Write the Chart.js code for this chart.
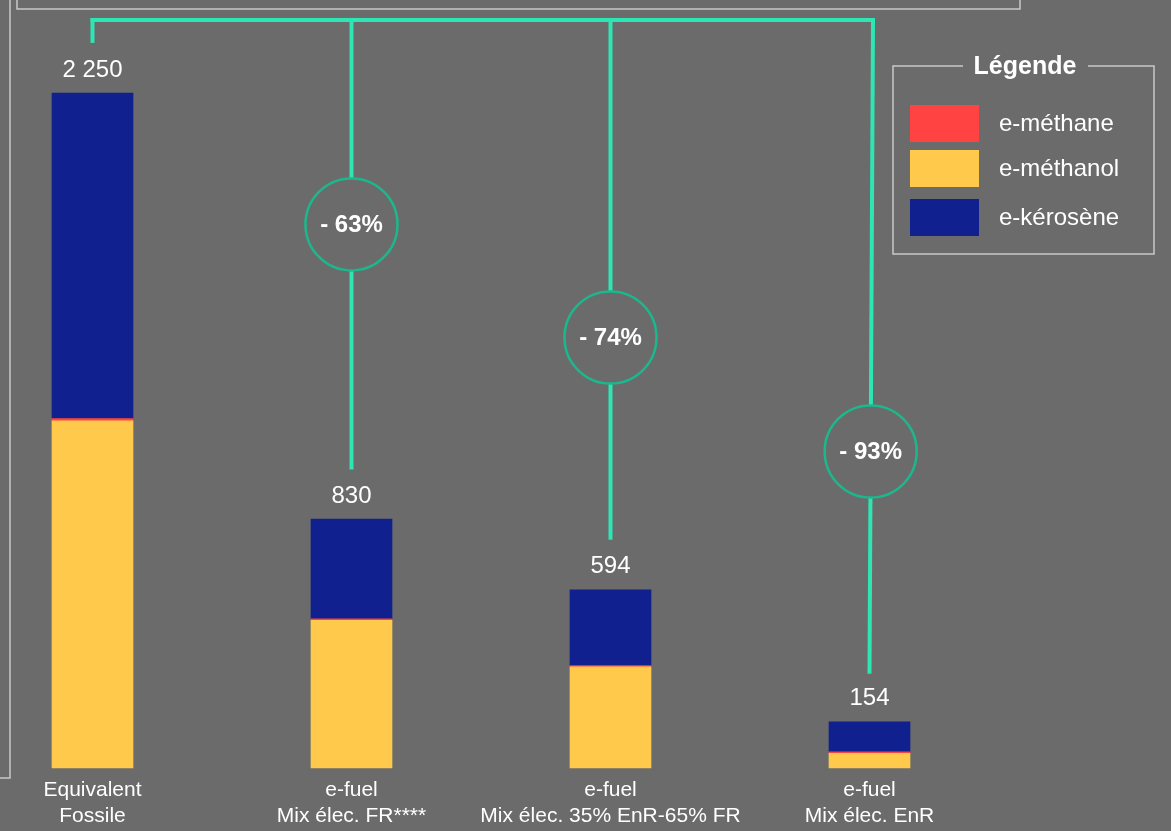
<!DOCTYPE html>
<html>
<head>
<meta charset="utf-8">
<script src="https://cdn.jsdelivr.net/npm/chart.js@4/dist/chart.umd.min.js"></script>
<style>
  html, body { margin: 0; padding: 0; background: #6b6b6b; overflow: hidden; }
  canvas { display: block; }
</style>
</head>
<body>
<canvas id="c" width="1171" height="831"></canvas>
<script>
// ---- Data ----
const categories = [
  ['Equivalent', 'Fossile'],
  ['e-fuel', 'Mix élec. FR****'],
  ['e-fuel', 'Mix élec. 35% EnR-65% FR'],
  ['e-fuel', 'Mix élec. EnR']
];
const methanolValues = [1157, 492, 337, 49];
const methaneValues = [8, 5, 4, 5];
const keroseneValues = [1085, 333, 253, 100];
const totalLabels = [2250, 830, 594, 154];
const reductionLabels = [null, '- 63%', '- 74%', '- 93%'];
const reductionLevels = [null, 1812, 1435, 1055];
const connectorEnds = [2417, 995, 761, 314];
const bracketLevel = 2493;
const yMax = 2500;
const legendTitle = 'Légende';
const legendNames = ['e-méthane', 'e-méthanol', 'e-kérosène'];

const COLORS = {
  methane: '#ff4242',
  methanol: '#ffca4b',
  kerosene: '#10218f',
  line: '#2de6b4',
  circle: '#1cb88d',
  frame: '#c9c9c9',
  text: '#ffffff'
};
const FONT = '"Liberation Sans", Arial, sans-serif';

Chart.defaults.font.family = FONT;
Chart.defaults.color = '#ffffff';

function fmt(n) {
  return String(n).replace(/\B(?=(\d{3})+(?!\d))/g, ' ');
}

const decorPlugin = {
  id: 'decor',
  beforeDraw(chart) {
    const ctx = chart.ctx;
    ctx.save();
    ctx.fillStyle = '#6b6b6b';
    ctx.fillRect(0, 0, chart.width, chart.height);
    ctx.strokeStyle = COLORS.frame;
    ctx.lineWidth = 1.5;
    ctx.beginPath();
    ctx.moveTo(10, 0); ctx.lineTo(10, 778); ctx.lineTo(0, 778);
    ctx.moveTo(17, 0); ctx.lineTo(17, 9); ctx.lineTo(1020, 9); ctx.lineTo(1020, 0);
    ctx.stroke();
    ctx.restore();
  },
  afterDatasetsDraw(chart) {
    const ctx = chart.ctx;
    const xs = chart.scales.x, ys = chart.scales.y;
    ctx.save();
    ctx.fillStyle = COLORS.text;
    ctx.font = '24px ' + FONT;
    ctx.textAlign = 'center';
    ctx.textBaseline = 'middle';
    totalLabels.forEach((v, i) => {
      const x = xs.getPixelForValue(i);
      const y = ys.getPixelForValue(v) - 23;
      ctx.fillText(fmt(v), x, y);
    });
    const by = ys.getPixelForValue(bracketLevel);
    const n = categories.length;
    const slant = (i) => (i === n - 1 ? 3.5 : 0);
    ctx.strokeStyle = COLORS.line;
    ctx.lineWidth = 4;
    ctx.lineCap = 'butt';
    ctx.beginPath();
    ctx.moveTo(xs.getPixelForValue(0) - 2, by);
    ctx.lineTo(xs.getPixelForValue(n - 1) + slant(n - 1) + 2, by);
    ctx.stroke();
    const R = 46;
    for (let i = 0; i < n; i++) {
      const xb = xs.getPixelForValue(i);
      const xt = xb + slant(i);
      const ye = ys.getPixelForValue(connectorEnds[i]);
      const xAt = (y) => xt + (xb - xt) * (y - by) / (ye - by);
      ctx.strokeStyle = COLORS.line;
      ctx.lineWidth = 4;
      if (reductionLevels[i] == null) {
        ctx.beginPath(); ctx.moveTo(xt, by - 2); ctx.lineTo(xb, ye); ctx.stroke();
      } else {
        const cy = ys.getPixelForValue(reductionLevels[i]);
        ctx.beginPath(); ctx.moveTo(xt, by - 2); ctx.lineTo(xAt(cy - R), cy - R); ctx.stroke();
        ctx.beginPath(); ctx.moveTo(xAt(cy + R), cy + R); ctx.lineTo(xb, ye); ctx.stroke();
        const cx = xAt(cy);
        ctx.beginPath();
        ctx.arc(cx, cy, R, 0, Math.PI * 2);
        ctx.strokeStyle = COLORS.circle;
        ctx.lineWidth = 2.5;
        ctx.stroke();
        ctx.fillStyle = COLORS.text;
        ctx.font = 'bold 24px ' + FONT;
        ctx.fillText(reductionLabels[i], cx, cy + 1);
      }
    }
    const lx0 = 893, lx1 = 1154, ly0 = 66, ly1 = 254;
    ctx.strokeStyle = COLORS.frame;
    ctx.lineWidth = 1.5;
    ctx.beginPath();
    ctx.moveTo(963, ly0); ctx.lineTo(lx0, ly0); ctx.lineTo(lx0, ly1);
    ctx.lineTo(lx1, ly1); ctx.lineTo(lx1, ly0); ctx.lineTo(1088, ly0);
    ctx.stroke();
    ctx.fillStyle = COLORS.text;
    ctx.font = 'bold 25px ' + FONT;
    ctx.textAlign = 'center';
    ctx.fillText(legendTitle, 1025, 67);
    const legendColors = [COLORS.methane, COLORS.methanol, COLORS.kerosene];
    const rowTops = [105, 150, 199];
    ctx.font = '24px ' + FONT;
    ctx.textAlign = 'left';
    legendNames.forEach((name, k) => {
      ctx.fillStyle = legendColors[k];
      ctx.fillRect(910, rowTops[k], 69, 37);
      ctx.fillStyle = COLORS.text;
      ctx.fillText(name, 999, rowTops[k] + 19);
    });
    ctx.restore();
  }
};

new Chart(document.getElementById('c'), {
  type: 'bar',
  data: {
    labels: categories,
    datasets: [
      { label: 'e-méthanol', data: methanolValues, backgroundColor: COLORS.methanol, clip: false },
      { label: 'e-méthane', data: methaneValues, backgroundColor: COLORS.methane, clip: false },
      { label: 'e-kérosène', data: keroseneValues, backgroundColor: COLORS.kerosene, clip: false }
    ]
  },
  options: {
    responsive: false,
    animation: false,
    devicePixelRatio: 1,
    barThickness: 81,
    layout: { padding: { left: 92.5, right: 301.5, top: 18, bottom: 0 } },
    plugins: { legend: { display: false }, tooltip: { enabled: false } },
    scales: {
      x: {
        stacked: true,
        offset: false,
        grid: { display: false, drawTicks: false },
        border: { display: false },
        ticks: { color: '#ffffff', padding: 10, font: { size: 21, family: FONT }, maxRotation: 0, autoSkip: false },
        afterFit(scale) { scale.height = 63; }
      },
      y: {
        stacked: true,
        display: false,
        min: 0,
        max: yMax
      }
    }
  },
  plugins: [decorPlugin]
});
</script>
</body>
</html>
